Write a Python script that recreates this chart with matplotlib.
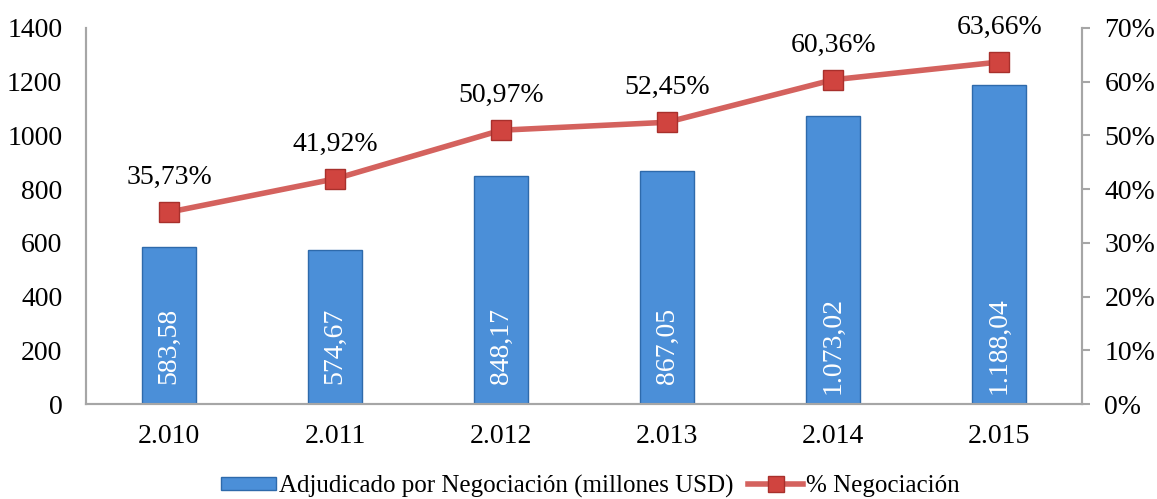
import matplotlib.pyplot as plt
from matplotlib.lines import Line2D
from matplotlib.patches import Patch

years = ['2.010', '2.011', '2.012', '2.013', '2.014', '2.015']
adjudicado = [583.58, 574.67, 848.17, 867.05, 1073.02, 1188.04]
adjudicado_labels = ['583,58', '574,67', '848,17', '867,05', '1.073,02', '1.188,04']
pct = [35.73, 41.92, 50.97, 52.45, 60.36, 63.66]
pct_labels = ['35,73%', '41,92%', '50,97%', '52,45%', '60,36%', '63,66%']

plt.rcParams['font.family'] = ['Liberation Serif', 'DejaVu Serif']

bar_color = '#4B8FD8'
bar_edge = '#2E6AAB'
line_color = '#D4625E'
marker_color = '#D0443F'
spine_color = '#A6A6A6'
fs = 20

fig = plt.figure(figsize=(11.57, 4.99), dpi=100)
ax = fig.add_axes([0.0743, 0.19, 0.861, 0.754])
ax2 = ax.twinx()

x = range(len(years))
ax.bar(x, adjudicado, width=0.325, color=bar_color, edgecolor=bar_edge, linewidth=1, zorder=2)
for i, lab in enumerate(adjudicado_labels):
    ax.text(i, 218, lab, rotation=90, ha='center', va='center', color='white', fontsize=fs, zorder=3)

ax.set_xlim(-0.5, len(years) - 0.5)
ax.set_ylim(0, 1400)
ax.set_yticks(range(0, 1401, 200))
ax.set_xticks(list(x))
ax.set_xticklabels(years)
ax.tick_params(axis='both', length=0, labelsize=fs)
ax.tick_params(axis='x', pad=14)
ax.tick_params(axis='y', pad=17)

ax2.plot(x, pct, color=line_color, linewidth=4, marker='s', markersize=14,
         markerfacecolor=marker_color, markeredgecolor='#A8302C', markeredgewidth=1, zorder=4)
for i, lab in enumerate(pct_labels):
    ax2.annotate(lab, (i, pct[i]), xytext=(0, 16), textcoords='offset points',
                 ha='center', va='bottom', fontsize=fs)
ax2.set_ylim(0, 70)
ax2.set_yticks(range(0, 71, 10))
ax2.set_yticklabels(['%d%%' % v for v in range(0, 71, 10)])
ax2.tick_params(axis='y', length=6, width=1.5, color=spine_color, labelsize=fs, pad=10)

for a in (ax, ax2):
    a.spines['top'].set_visible(False)
    for s in ('left', 'right', 'bottom'):
        a.spines[s].set_color(spine_color)
        a.spines[s].set_linewidth(1.5)

handles = [Patch(facecolor=bar_color, edgecolor=bar_edge),
           Line2D([0], [0], color=line_color, linewidth=4, marker='s', markersize=12,
                  markerfacecolor=marker_color, markeredgecolor='#A8302C')]
fig.legend(handles, ['Adjudicado por Negociación (millones USD)', '% Negociación'],
           loc='center', bbox_to_anchor=(0.51, 0.026), ncol=2, frameon=False,
           fontsize=18, handlelength=2.2, handleheight=0.45, handletextpad=0.1,
           columnspacing=0.6)

fig.savefig('out.png', dpi=100)
